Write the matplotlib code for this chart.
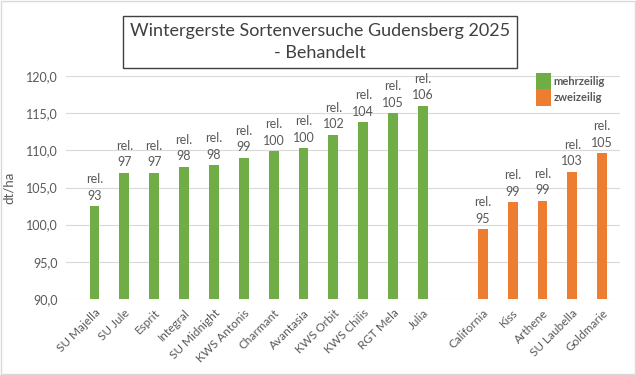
import numpy as np
import matplotlib.pyplot as plt
from matplotlib.patches import Patch

plt.rcParams['font.family'] = ['Lato', 'DejaVu Sans']

mehr_names = ['SU Majella', 'SU Jule', 'Esprit', 'Integral', 'SU Midnight', 'KWS Antonis',
              'Charmant', 'Avantasia', 'KWS Orbit', 'KWS Chilis', 'RGT Mela', 'Julia']
mehr_yield = [102.5, 107.0, 107.0, 107.8, 108.0, 109.0, 109.9, 110.3, 112.1, 113.8, 115.0, 116.0]
mehr_rel = [93, 97, 97, 98, 98, 99, 100, 100, 102, 104, 105, 106]

zwei_names = ['California', 'Kiss', 'Arthene', 'SU Laubella', 'Goldmarie']
zwei_yield = [99.4, 103.0, 103.2, 107.1, 109.6]
zwei_rel = [95, 99, 99, 103, 105]

green = '#70AD47'
orange = '#ED7D31'
gray = '#595959'

fig = plt.figure(figsize=(6.36, 3.75), dpi=100)
ax = fig.add_axes([0.104, 0.203, 0.871, 0.594])

x_mehr = np.arange(len(mehr_names))
x_zwei = np.arange(len(zwei_names)) + len(mehr_names) + 1

ax.bar(x_mehr, mehr_yield, width=0.33, color=green, zorder=3)
ax.bar(x_zwei, zwei_yield, width=0.33, color=orange, zorder=3)

for xs, ys, rs in [(x_mehr, mehr_yield, mehr_rel), (x_zwei, zwei_yield, zwei_rel)]:
    for x, y, r in zip(xs, ys, rs):
        ax.text(x, y + 0.6, 'rel.\n' + str(r), ha='center', va='bottom',
                fontsize=9, color=gray, linespacing=1.45)

ax.set_ylim(90, 120)
ax.set_xlim(-0.95, 17.6)
yt = np.arange(90, 121, 5)
ax.set_yticks(yt)
ax.set_yticklabels([('%.1f' % v).replace('.', ',') for v in yt], fontsize=9, color=gray)
ax.set_xticks(list(x_mehr) + list(x_zwei))
ax.set_xticklabels(mehr_names + zwei_names, rotation=45, ha='right', rotation_mode='anchor',
                   fontsize=8.5, color=gray)
ax.tick_params(length=0, pad=6)
ax.grid(axis='y', color='#D9D9D9', linewidth=0.8, zorder=0)
for s in ax.spines.values():
    s.set_visible(False)
ax.set_ylabel('dt/ha', fontsize=9.5, color=gray, labelpad=8)

fig.text(0.503, 0.888, 'Wintergerste Sortenversuche Gudensberg 2025\n- Behandelt',
         ha='center', va='center', fontsize=13, color='#404040', linespacing=1.45,
         bbox=dict(boxstyle='square,pad=0.4', facecolor='white', edgecolor='#404040', linewidth=1.0))

handles = [Patch(facecolor=green, label='mehrzeilig'), Patch(facecolor=orange, label='zweizeilig')]
ax.legend(handles=handles, loc='upper right', bbox_to_anchor=(0.985, 1.045), frameon=False,
          prop={'size': 8, 'weight': 'bold'}, labelcolor=gray, handlelength=1.35, handleheight=1.9,
          handletextpad=0.25, labelspacing=0.0, borderaxespad=0.2)

fig.patches.append(plt.Rectangle((0.002, 0.003), 0.996, 0.994, transform=fig.transFigure,
                                 fill=False, edgecolor='#D9D9D9', linewidth=1.0))

fig.savefig('out.png', dpi=100)
